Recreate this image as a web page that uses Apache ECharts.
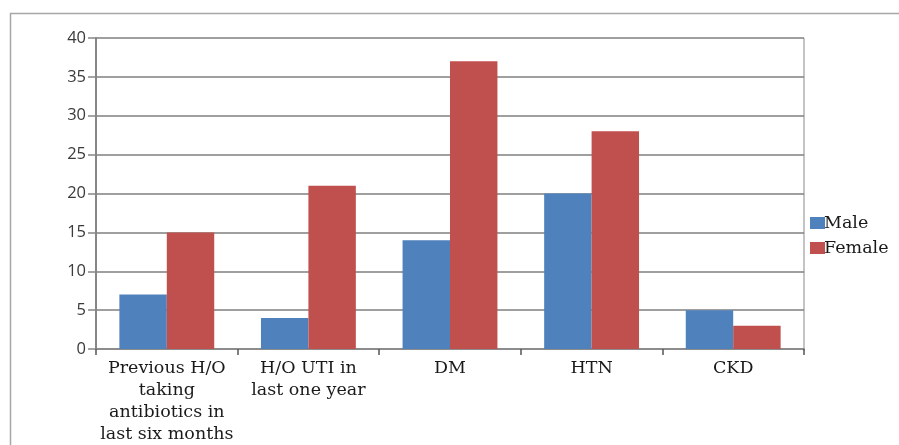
<!DOCTYPE html>
<html>
<head>
<meta charset="utf-8">
<script src="https://cdn.jsdelivr.net/npm/echarts@6/dist/echarts.min.js"></script>
<style>
  html, body { margin: 0; padding: 0; background: #fff; }
  #chart { width: 899px; height: 445px; }
</style>
</head>
<body>
<div id="chart"></div>
<script>
// Risk factors by sex
const categories = [
  'Previous H/O\ntaking\nantibiotics in\nlast six months',
  'H/O UTI in\nlast one year',
  'DM',
  'HTN',
  'CKD'
];
const maleValues = [7, 4, 14, 20, 5];
const femaleValues = [15, 21, 37, 28, 3];
const seriesNames = ['Male', 'Female'];

const serif = '"DejaVu Serif", "Liberation Serif", serif';
const sans = '"Open Sans", "Noto Sans", sans-serif';

const chart = echarts.init(document.getElementById('chart'), null, { renderer: 'canvas' });
chart.setOption({
  animation: false,
  backgroundColor: '#ffffff',
  graphic: [{
    type: 'rect',
    left: 8, top: 11,
    shape: { x: 0, y: 0, width: 1000, height: 1000 },
    style: { fill: 'none', stroke: '#a6a6a6', lineWidth: 1.5 },
    silent: true,
    z: -1
  }, {
    type: 'line',
    shape: { x1: 804, y1: 38, x2: 804, y2: 351 },
    style: { stroke: '#b0b0b0', lineWidth: 1.5 },
    silent: true
  }],
  grid: { left: 96, right: 95, top: 38, bottom: 94, containLabel: false },
  legend: {
    orient: 'vertical',
    left: 805,
    top: 209,
    itemWidth: 15,
    itemHeight: 12,
    itemGap: 7,
    icon: 'rect',
    textStyle: { fontFamily: serif, fontSize: 17.5, color: '#1a1a1a', padding: [0, 0, 0, -6] },
    data: seriesNames
  },
  xAxis: {
    type: 'category',
    data: categories,
    axisLine: { show: true, lineStyle: { color: '#868686', width: 1.5 } },
    axisTick: { show: true, length: 6, alignWithLabel: false, lineStyle: { color: '#555', width: 1.5 } },
    axisLabel: {
      interval: 0,
      margin: 8,
      fontFamily: serif,
      fontSize: 17.5,
      lineHeight: 22,
      color: '#1a1a1a'
    },
    splitLine: { show: false }
  },
  yAxis: {
    type: 'value',
    min: 0,
    max: 40,
    interval: 5,
    axisLine: { show: true, lineStyle: { color: '#868686', width: 2 } },
    axisTick: { show: true, inside: false, length: 8, lineStyle: { color: '#868686', width: 1.5 } },
    axisLabel: { margin: 10, fontFamily: sans, fontSize: 16.5, color: '#3a3a3a' },
    splitLine: { show: true, lineStyle: { color: '#7f7f7f', width: 1.5 } }
  },
  series: [{
    name: seriesNames[0],
    type: 'bar',
    data: maleValues,
    barGap: '0%',
    barCategoryGap: '33%',
    itemStyle: { color: '#4f81bd' }
  }, {
    name: seriesNames[1],
    type: 'bar',
    data: femaleValues,
    barGap: '0%',
    barCategoryGap: '33%',
    itemStyle: { color: '#c0504d' }
  }]
});
</script>
</body>
</html>
